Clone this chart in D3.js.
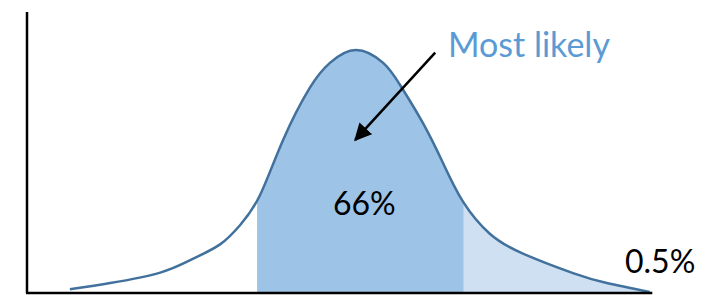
<!DOCTYPE html>
<html>
<head>
<meta charset="utf-8">
<script src="https://cdn.jsdelivr.net/npm/d3@7/dist/d3.min.js"></script>
<style>
  html, body { margin: 0; padding: 0; background: #fff; }
  svg { display: block; }
  text { font-family: Lato, "Open Sans", sans-serif; }
</style>
</head>
<body>
<svg id="chart" width="707" height="295"></svg>
<script>
// Curve samples (x position, relative density 0-100)
const curveX = [6.6, 12.8, 20.5, 25.5, 29.7, 32.8, 35.8, 39.4, 43.5, 46.6, 50.6, 54.8, 57.4, 60.9, 64.0, 67.1, 71.2, 76.3, 84.0, 89.2, 95.8];
const curveY = [1.5, 4.1, 8.4, 14.0, 20.0, 28.0, 40.0, 63.0, 84.4, 94.7, 100, 94.7, 85.6, 70.0, 53.5, 37.5, 24.4, 16.2, 8.2, 4.1, 0.4];
// Shaded bands: [start, end]
const bandNames = ["likely", "tail"];
const bandStart = [35.4, 67.2];
const bandEnd = [67.2, 95.8];
const bandColors = ["#9DC3E6", "#CFE0F2"];
// Annotations
const labels = ["Most likely", "66%", "0.5%"];
const arrowFrom = [62.8, 98.9];
const arrowTo = [50.5, 63];

const svg = d3.select("#chart");
const x = d3.scaleLinear().domain([0, 100]).range([27, 677]);
const y = d3.scaleLinear().domain([0, 100]).range([293, 50]);

const pts = curveX.map((v, i) => [v, curveY[i]]);

const defs = svg.append("defs");
bandNames.forEach((n, i) => {
  defs.append("clipPath").attr("id", "clip-" + n)
    .append("rect")
    .attr("x", x(bandStart[i])).attr("y", 0)
    .attr("width", x(bandEnd[i]) - x(bandStart[i])).attr("height", y(0) + 2);
});
defs.append("marker").attr("id", "arrow")
  .attr("viewBox", "0 0 10 10").attr("refX", 9).attr("refY", 5)
  .attr("markerWidth", 7).attr("markerHeight", 7).attr("markerUnits", "strokeWidth")
  .attr("orient", "auto")
  .append("path").attr("d", "M0,0 L10,5 L0,10 Z").attr("fill", "#000");

const curve = d3.curveNatural;
const area = d3.area().x(d => x(d[0])).y0(y(0)).y1(d => y(d[1])).curve(curve);
const line = d3.line().x(d => x(d[0])).y(d => y(d[1])).curve(curve);

bandNames.forEach((n, i) => {
  svg.append("path").datum(pts).attr("d", area)
    .attr("fill", bandColors[i]).attr("clip-path", "url(#clip-" + n + ")");
});

svg.append("path").datum(pts).attr("d", line)
  .attr("fill", "none").attr("stroke", "#41719C").attr("stroke-width", 2.5);

// axes
svg.append("line").attr("x1", x(0)).attr("x2", x(0)).attr("y1", 12).attr("y2", y(0))
  .attr("stroke", "#000").attr("stroke-width", 2.5);
svg.append("line").attr("x1", x(0) - 1).attr("x2", x(96.2)).attr("y1", y(0)).attr("y2", y(0))
  .attr("stroke", "#000").attr("stroke-width", 2.5);

// arrow
svg.append("line")
  .attr("x1", x(arrowFrom[0])).attr("y1", y(arrowFrom[1]))
  .attr("x2", x(arrowTo[0])).attr("y2", y(arrowTo[1]))
  .attr("stroke", "#000").attr("stroke-width", 2.5)
  .attr("marker-end", "url(#arrow)");

svg.append("text").attr("x", 448).attr("y", 57).text(labels[0])
  .attr("fill", "#5B9BD5").attr("font-size", 34);
svg.append("text").attr("x", 333).attr("y", 215).text(labels[1])
  .attr("fill", "#000").attr("font-size", 32);
svg.append("text").attr("x", 625).attr("y", 273).text(labels[2])
  .attr("fill", "#000").attr("font-size", 32);
</script>
</body>
</html>
